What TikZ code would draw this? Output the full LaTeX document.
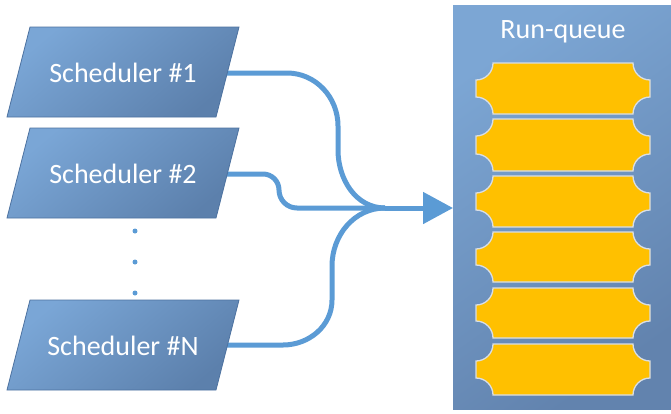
\documentclass[tikz,border=0pt]{standalone}
\usepackage{fontspec}
\setmainfont{Carlito}
\usetikzlibrary{arrows.meta}
\definecolor{conncol}{HTML}{5B9BD5}
\definecolor{schtop}{HTML}{7AA6D6}
\definecolor{schbot}{HTML}{5C80AC}
\definecolor{schedge}{HTML}{4D72A0}
\definecolor{rqtop}{HTML}{7CA6D4}
\definecolor{rqbot}{HTML}{6283AE}
\definecolor{itemfill}{HTML}{FFC000}
\definecolor{itemedge}{HTML}{D8DEE6}
\tikzset{
  conn/.style={draw=conncol, line width=5pt},
  schbox/.style={top color=schtop, bottom color=schbot, shading angle=40, draw=schedge, line width=0.8pt},
  schlabel/.style={text=white, font=\fontsize{28}{30}\selectfont, inner sep=0pt},
  rqbox/.style={top color=rqtop, bottom color=rqbot, shading angle=35},
  item/.style={fill=itemfill, draw=itemedge, line width=1.3pt},
  dotmark/.style={circle, fill=conncol, inner sep=0pt, minimum size=5pt},
}
\newcommand{\qitem}[2]{%
  \path[item] (476+17,#1) -- (650-17,#1) arc[start angle=180, end angle=90, radius=17]
    -- (650,#2-17) arc[start angle=-90, end angle=-180, radius=17]
    -- (476+17,#2) arc[start angle=0, end angle=-90, radius=17]
    -- (476,#1+17) arc[start angle=90, end angle=0, radius=17] -- cycle;}
\begin{document}
\begin{tikzpicture}[x=1pt, y=-1pt]
\useasboundingbox (0,0) rectangle (671,413);
% run-queue box
\path[rqbox] (453,5) rectangle (671,409);
\node[text=white, font=\fontsize{28}{30}\selectfont, inner sep=0pt] (rqlabel) at (563,32) {Run-queue};
\coordinate (rqin) at (453,208);
\qitem{63}{114}
\qitem{119}{171}
\qitem{176}{227}
\qitem{232}{282}
\qitem{288}{338}
\qitem{344}{395}
% connector anchors
\coordinate (s1e) at (225,73);
\coordinate (s2e) at (225,174);
\coordinate (sNe) at (225,345);
\coordinate (merge) at (385,208);
% connectors
\draw[conn] (s1e) -- (287,73) to[out=0, in=90] (338,126) -- (338,150) to[out=-90, in=180] (merge);
\draw[conn] (s2e) -- (263,174) to[out=0, in=90] (279,190) to[out=-90, in=180] (297,208) -- (merge);
\draw[conn] (sNe) -- (283,345) to[out=0, in=-90] (332,300) -- (332,266) to[out=90, in=180] (merge);
\draw[conn, -{Triangle[length=30pt, width=31pt]}] (merge) -- (rqin);
% schedulers
\path[schbox] (7,117) -- (30,27) -- (239,27) -- (216,117) -- cycle;
\node[schlabel] (s1) at (123,73) {Scheduler \#1};
\path[schbox] (7,218) -- (30,128) -- (239,128) -- (216,218) -- cycle;
\node[schlabel] (s2) at (123,174) {Scheduler \#2};
\path[schbox] (7,390) -- (30,300) -- (239,300) -- (216,390) -- cycle;
\node[schlabel] (sN) at (123,346) {Scheduler \#N};
% dots
\node[dotmark] (d1) at (135,231) {};
\node[dotmark] (d2) at (135,262) {};
\node[dotmark] (d3) at (135,293) {};
\end{tikzpicture}
\end{document}
